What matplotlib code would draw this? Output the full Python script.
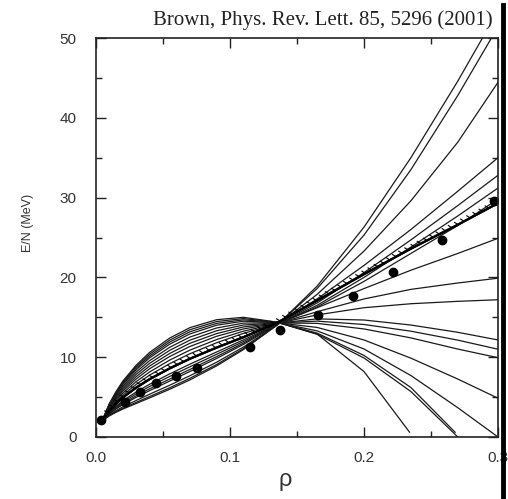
import numpy as np
import matplotlib.pyplot as plt
import matplotlib.patheffects as pe
from matplotlib.lines import Line2D

# densities (fm^-3) where each E/N curve is tabulated
rho = [0.005, 0.01, 0.015, 0.02, 0.03, 0.04, 0.055, 0.07, 0.09, 0.11,
       0.135, 0.165, 0.2, 0.235, 0.27, 0.3]

# Skyrme parametrisations, stiffest first
curves = [
    [2.10, 2.65, 3.10, 3.50, 4.20, 4.90, 5.98, 7.15, 8.91, 10.95, 14.00, 18.9, 26.3, 35.0, 44.6, 53.4],
    [2.10, 2.70, 3.18, 3.61, 4.34, 5.07, 6.17, 7.35, 9.08, 11.07, 14.01, 18.6, 25.3, 33.5, 42.8, 51.4],
    [2.11, 2.77, 3.31, 3.78, 4.58, 5.36, 6.49, 7.67, 9.37, 11.27, 14.03, 17.87, 23.3, 29.6, 36.95, 44.45],
    [2.12, 2.90, 3.52, 4.06, 4.97, 5.81, 7.01, 8.20, 9.84, 11.60, 14.06, 17.3, 21.5, 26.0, 30.8, 35.0],
    [2.12, 2.96, 3.62, 4.20, 5.16, 6.04, 7.26, 8.46, 10.07, 11.76, 14.08, 16.8, 20.6, 24.7, 29.0, 32.8],
    [2.13, 3.04, 3.75, 4.38, 5.40, 6.33, 7.59, 8.79, 10.36, 11.96, 14.10, 16.5, 20.0, 23.8, 27.7, 31.2],
    [2.13, 3.12, 3.88, 4.55, 5.64, 6.61, 7.91, 9.12, 10.65, 12.17, 14.12, 16.3, 19.5, 23.0, 26.5, 29.8],
    [2.14, 3.27, 4.14, 4.90, 6.12, 7.18, 8.55, 9.77, 11.23, 12.57, 14.16, 16.2, 18.6, 20.9, 23.0, 24.9],
    [2.15, 3.43, 4.40, 5.25, 6.60, 7.75, 9.19, 10.43, 11.81, 12.98, 14.20, 15.7, 17.3, 18.5, 19.3, 19.9],
    [2.16, 3.53, 4.58, 5.50, 6.94, 8.15, 9.64, 10.88, 12.21, 13.26, 14.23, 15.3, 16.2, 16.7, 17.0, 17.2],
    [2.16, 3.64, 4.76, 5.74, 7.27, 8.55, 10.09, 11.34, 12.62, 13.54, 14.26, 14.8, 14.66, 14.03, 13.12, 12.16],
    [2.17, 3.74, 4.92, 5.95, 7.56, 8.89, 10.47, 11.74, 12.96, 13.79, 14.28, 14.52, 14.1, 13.26, 12.14, 11.0],
    [2.18, 3.83, 5.08, 6.16, 7.85, 9.23, 10.86, 12.13, 13.31, 14.03, 14.30, 14.24, 13.54, 12.42, 11.02, 9.94],
    [2.18, 3.92, 5.23, 6.37, 8.14, 9.57, 11.24, 12.52, 13.66, 14.27, 14.33, 13.73, 12.16, 9.88, 7.26, 4.86],
    [2.19, 4.01, 5.39, 6.58, 8.42, 9.92, 11.63, 12.91, 14.01, 14.51, 14.35, 13.3, 11.03, 7.7, 3.67, 0.0],
]

# soft parametrisations that leave through the bottom before rho = 0.3
rho_p = [0.005, 0.01, 0.015, 0.02, 0.03, 0.04, 0.055, 0.07, 0.09, 0.11, 0.135, 0.165, 0.2, 0.235, 0.268]
e_p = [2.19, 4.08, 5.49, 6.72, 8.62, 10.14, 11.89, 13.18, 14.24, 14.68, 14.37, 13.02, 10.22, 6.2, 0.59]
rho_q = [0.005, 0.01, 0.015, 0.02, 0.03, 0.04, 0.055, 0.07, 0.09, 0.11, 0.135, 0.165, 0.2, 0.235, 0.27]
e_q = [2.20, 4.14, 5.60, 6.86, 8.81, 10.37, 12.14, 13.44, 14.47, 14.84, 14.38, 12.88, 9.9, 5.7, 0.0]
rho_r = [0.005, 0.01, 0.015, 0.02, 0.03, 0.04, 0.055, 0.07, 0.09, 0.11, 0.135, 0.165, 0.2, 0.234]
e_r = [2.20, 4.20, 5.70, 7.00, 9.00, 10.60, 12.40, 13.70, 14.70, 15.00, 14.40, 12.9, 8.2, 0.6]

# microscopic neutron matter (ticked line) and FP points
e_micro = [2.15, 3.3, 4.2, 4.95, 6.2, 7.25, 8.6, 9.8, 11.2, 12.5, 14.3, 17.1, 20.4, 23.6, 26.6, 29.3]
rho_fp = [0.004, 0.022, 0.033, 0.045, 0.06, 0.075, 0.115, 0.137, 0.166, 0.192, 0.222, 0.258, 0.297]
e_fp = [2.1, 4.4, 5.6, 6.8, 7.6, 8.6, 11.3, 13.4, 15.3, 17.7, 20.7, 24.7, 29.6]

fig = plt.figure(figsize=(5.08, 4.99), dpi=100)
ax = fig.add_axes([96/508, 62/499, 402/508, 399/499])

lc = '#1a1a1a'
for c in curves:
    ax.plot(rho, c, color=lc, lw=0.9)
ax.plot(rho_p, e_p, color=lc, lw=0.9)
ax.plot(rho_q, e_q, color=lc, lw=0.9)
ax.plot(rho_r, e_r, color=lc, lw=0.9)

ax.plot(rho, e_micro, color='black', lw=1.6,
        path_effects=[pe.withTickedStroke(spacing=5, angle=120, length=0.6, linewidth=0.8),
                      pe.Normal()])
ax.plot(rho_fp, e_fp, 'o', color='black', ms=6)

ax.set_xlim(0, 0.3)
ax.set_ylim(0, 50)
ax.set_xticks([0, 0.1, 0.2, 0.3])
ax.set_xticklabels(['0.0', '0.1', '0.2', '0.3'])
ax.set_xticks([0.05, 0.15, 0.25], minor=True)
ax.set_yticks([0, 10, 20, 30, 40, 50])
ax.set_yticks([5, 15, 25, 35, 45], minor=True)
ax.tick_params(which='both', direction='in', top=True, right=True, width=1,
               colors='#222', labelcolor='#333', labelsize=11)
ax.tick_params(which='major', length=7)
ax.tick_params(which='minor', length=4)
ax.tick_params(axis='x', pad=10)
ax.tick_params(axis='y', pad=14)
for lab in ax.get_xticklabels() + ax.get_yticklabels():
    lab.set_family('Liberation Sans')
for s in ax.spines.values():
    s.set_linewidth(1.2)
    s.set_color('#222')

fig.text(28/508, 1 - 223/499, 'E/N (MeV)', rotation=90, ha='center', va='center',
         fontsize=9, color='#333', family='Liberation Sans')
fig.text(285/508, 1 - 480/499, 'ρ', ha='center', va='center', fontsize=17,
         color='#333', family='Liberation Sans')
fig.text(493/508, 1 - 25/499, 'Brown, Phys. Rev. Lett. 85, 5296 (2001)', ha='right',
         va='baseline', fontsize=15, color='#222', family='Liberation Serif')

# dark border along the right edge
fig.add_artist(Line2D([503/508, 503/508], [0, 494/499], color='black', lw=3.5,
                      transform=fig.transFigure))

fig.savefig('out.png', dpi=100)
